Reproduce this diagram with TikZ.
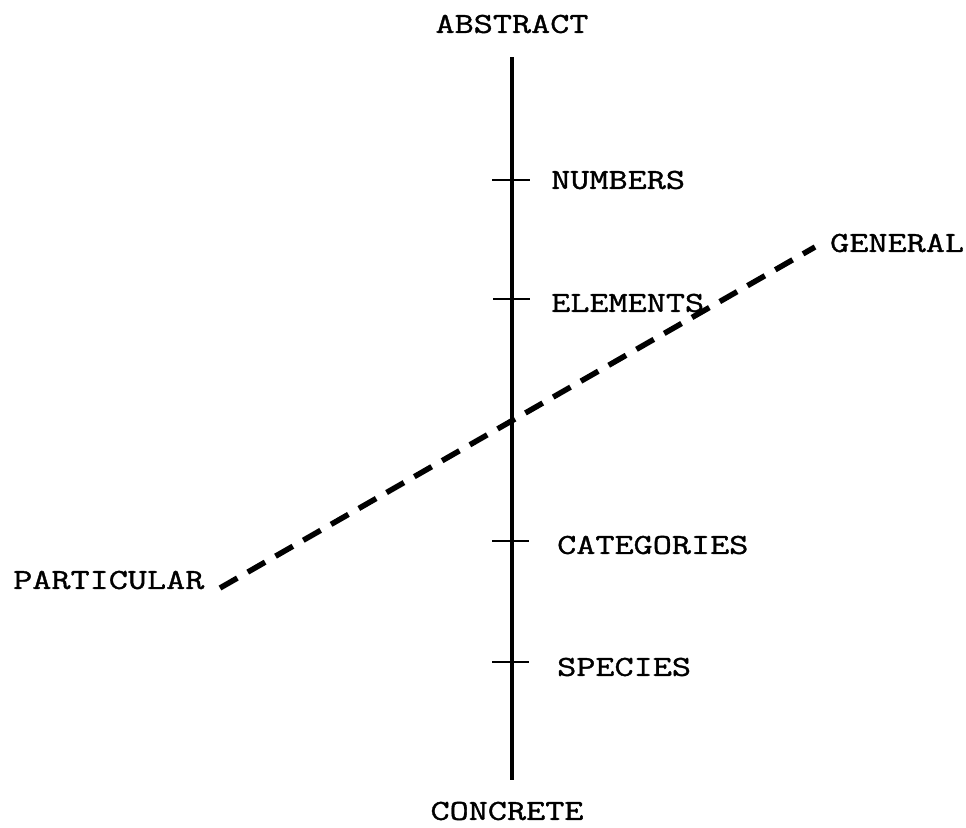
\documentclass[tikz,border=0pt]{standalone}
\usepackage{fontspec}
\newfontfamily\twfont[FakeStretch=1.28,FakeBold=1.3]{Latin Modern Mono}
\begin{document}
\begin{tikzpicture}[x=1pt,y=-1pt,
  lbl/.style={font=\twfont\fontsize{29}{33}\selectfont, inner sep=0pt},
  axis/.style={line width=4pt},
  tick/.style={line width=2.5pt},
  dashln/.style={line width=5.5pt, dash pattern=on 20pt off 12pt}]
\useasboundingbox (0,0) rectangle (966,827);
\coordinate (top) at (512,57);
\coordinate (bot) at (512,780);
\draw[axis] (top) -- (bot);
\node[lbl] (abstract) at (512,24) {ABSTRACT};
\node[lbl] (concrete) at (507,811) {CONCRETE};
% ticks
\coordinate (t1a) at (492,180); \coordinate (t1b) at (530,180);
\coordinate (t2a) at (493,299); \coordinate (t2b) at (530,299);
\coordinate (t3a) at (492,541); \coordinate (t3b) at (529,541);
\coordinate (t4a) at (492,662); \coordinate (t4b) at (529,662);
\draw[tick] (t1a) -- (t1b);
\draw[tick] (t2a) -- (t2b);
\draw[tick] (t3a) -- (t3b);
\draw[tick] (t4a) -- (t4b);
\node[lbl, anchor=west] (numbers) at (551,180) {NUMBERS};
\node[lbl, anchor=west] (elements) at (551,303) {ELEMENTS};
\node[lbl, anchor=west] (categories) at (557,545) {CATEGORIES};
\node[lbl, anchor=west] (species) at (557,667) {SPECIES};
\node[lbl, anchor=west] (general) at (830,243) {GENERAL};
\node[lbl, anchor=west] (particular) at (13,580) {PARTICULAR};
\coordinate (pend) at (220,588);
\coordinate (gend) at (815,247);
\draw[dashln] (pend) -- (gend);
\end{tikzpicture}
\end{document}
